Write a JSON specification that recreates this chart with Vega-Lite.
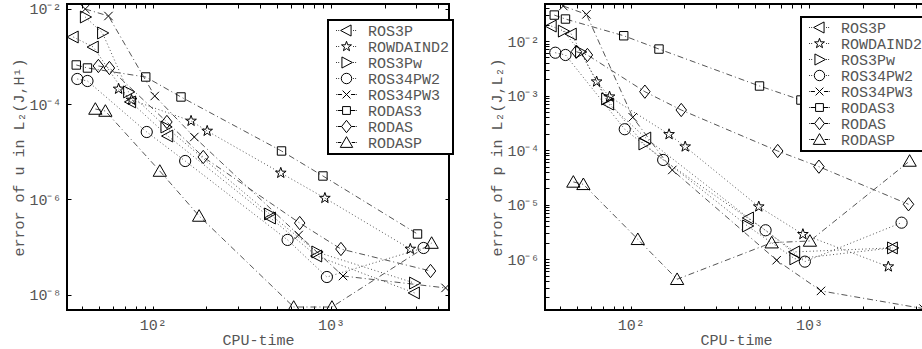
{
 "$schema": "https://vega.github.io/schema/vega-lite/v6.json",
 "background": "white",
 "padding": {"left": 10, "top": 0, "right": 0, "bottom": 0},
 "config": {
  "view": {"stroke": "black", "strokeWidth": 2},
  "axis": {"grid": false, "domain": false, "tickColor": "black", "tickSize": -4, "tickWidth": 1,
   "labelFont": "Liberation Mono", "labelFontSize": 15, "labelColor": "#555", "labelPadding": 10,
   "labelFlush": false, "labelOverlap": false, "labelBound": false,
   "titleFont": "Liberation Mono", "titleFontSize": 15, "titleColor": "#555", "titleFontWeight": "normal"}
 },
 "datasets": {
  "runs": [
   {"method":"ROS3P","cpu":35.8,"err_u":2.55e-3,"err_p":1.88e-2},
   {"method":"ROS3P","cpu":46.4,"err_u":1.57e-3,"err_p":1.34e-2},
   {"method":"ROS3P","cpu":75.2,"err_u":1.11e-4,"err_p":7.0e-4},
   {"method":"ROS3P","cpu":121.5,"err_u":2.14e-5,"err_p":1.67e-4},
   {"method":"ROS3P","cpu":458,"err_u":4.09e-7,"err_p":5.73e-6},
   {"method":"ROS3P","cpu":833,"err_u":6.53e-8,"err_p":1.37e-6},
   {"method":"ROS3P","cpu":2944,"err_u":1.10e-8,"err_p":1.62e-6},
   {"method":"ROWDAIND2","cpu":64.3,"err_u":2.08e-4,"err_p":1.80e-3},
   {"method":"ROWDAIND2","cpu":76.0,"err_u":1.22e-4,"err_p":9.55e-4},
   {"method":"ROWDAIND2","cpu":164,"err_u":4.43e-5,"err_p":1.95e-4},
   {"method":"ROWDAIND2","cpu":202,"err_u":2.73e-5,"err_p":1.16e-4},
   {"method":"ROWDAIND2","cpu":523,"err_u":3.60e-6,"err_p":9.23e-6},
   {"method":"ROWDAIND2","cpu":925,"err_u":1.07e-6,"err_p":2.88e-6},
   {"method":"ROWDAIND2","cpu":2790,"err_u":9.16e-8,"err_p":7.35e-7},
   {"method":"ROS3Pw","cpu":41.8,"err_u":6.70e-3,"err_p":1.52e-2},
   {"method":"ROS3Pw","cpu":52.2,"err_u":3.10e-3,"err_p":6.3e-3},
   {"method":"ROS3Pw","cpu":73.1,"err_u":1.80e-4,"err_p":8.67e-4},
   {"method":"ROS3Pw","cpu":118.4,"err_u":3.31e-5,"err_p":1.30e-4},
   {"method":"ROS3Pw","cpu":452,"err_u":4.97e-7,"err_p":4.09e-6},
   {"method":"ROS3Pw","cpu":833,"err_u":7.93e-8,"err_p":1.02e-6},
   {"method":"ROS3Pw","cpu":2944,"err_u":1.77e-8,"err_p":1.62e-6},
   {"method":"ROS34PW2","cpu":37.7,"err_u":3.36e-4,"err_p":6.11e-3},
   {"method":"ROS34PW2","cpu":43.0,"err_u":3.05e-4,"err_p":5.55e-3},
   {"method":"ROS34PW2","cpu":92.5,"err_u":2.60e-5,"err_p":2.42e-4},
   {"method":"ROS34PW2","cpu":152,"err_u":6.41e-6,"err_p":6.62e-5},
   {"method":"ROS34PW2","cpu":571,"err_u":1.42e-7,"err_p":3.41e-6},
   {"method":"ROS34PW2","cpu":949,"err_u":2.37e-8,"err_p":9.08e-7},
   {"method":"ROS34PW2","cpu":3311,"err_u":9.62e-8,"err_p":4.70e-6},
   {"method":"ROS34PW3","cpu":41.8,"err_u":9.86e-3,"err_p":4.38e-2},
   {"method":"ROS34PW3","cpu":56.4,"err_u":7.03e-3,"err_p":3.08e-2},
   {"method":"ROS34PW3","cpu":102.6,"err_u":1.48e-4,"err_p":4.01e-4},
   {"method":"ROS34PW3","cpu":171,"err_u":2.04e-5,"err_p":4.34e-5},
   {"method":"ROS34PW3","cpu":659,"err_u":1.80e-7,"err_p":9.64e-7},
   {"method":"ROS34PW3","cpu":1169,"err_u":2.49e-8,"err_p":2.64e-7},
   {"method":"ROS34PW3","cpu":4400,"err_u":1.40e-8,"err_p":1.25e-7},
   {"method":"RODAS3","cpu":37.2,"err_u":6.61e-4,"err_p":2.99e-2},
   {"method":"RODAS3","cpu":43.0,"err_u":5.71e-4,"err_p":2.53e-2},
   {"method":"RODAS3","cpu":91.3,"err_u":3.70e-4,"err_p":1.25e-2},
   {"method":"RODAS3","cpu":144,"err_u":1.41e-4,"err_p":7.13e-3},
   {"method":"RODAS3","cpu":528,"err_u":1.04e-5,"err_p":1.50e-3},
   {"method":"RODAS3","cpu":902,"err_u":3.11e-6,"err_p":8.30e-4},
   {"method":"RODAS3","cpu":3062,"err_u":1.89e-7,"err_p":1.60e-4},
   {"method":"RODAS","cpu":49.5,"err_u":6.30e-4,"err_p":6.37e-3},
   {"method":"RODAS","cpu":57.1,"err_u":5.71e-4,"err_p":5.55e-3},
   {"method":"RODAS","cpu":120,"err_u":4.22e-5,"err_p":1.18e-3},
   {"method":"RODAS","cpu":192,"err_u":7.78e-6,"err_p":5.45e-4},
   {"method":"RODAS","cpu":668,"err_u":3.21e-7,"err_p":9.66e-5},
   {"method":"RODAS","cpu":1138,"err_u":9.16e-8,"err_p":4.99e-5},
   {"method":"RODAS","cpu":3622,"err_u":3.17e-8,"err_p":1.02e-5},
   {"method":"RODASP","cpu":47.6,"err_u":7.89e-5,"err_p":2.62e-5},
   {"method":"RODASP","cpu":54.2,"err_u":7.16e-5,"err_p":2.37e-5},
   {"method":"RODASP","cpu":109.5,"err_u":3.95e-6,"err_p":2.33e-6},
   {"method":"RODASP","cpu":182,"err_u":4.51e-7,"err_p":4.32e-7},
   {"method":"RODASP","cpu":618,"err_u":5.57e-9,"err_p":2.02e-6},
   {"method":"RODASP","cpu":1013,"err_u":5.57e-9,"err_p":2.17e-6},
   {"method":"RODASP","cpu":3675,"err_u":1.22e-7,"err_p":6.34e-5}
  ]
 },
 "data": {"name": "runs"},
 "spacing": 33,
 "resolve": {
  "scale": {"x": "independent", "y": "independent", "shape": "independent", "strokeDash": "independent", "opacity": "independent"},
  "legend": {"opacity": "independent", "shape": "independent", "strokeDash": "independent"}
 },
 "hconcat": [
  {
   "width": 382, "height": 306,
   "resolve": {"axis": {"x": "independent", "y": "independent"}},
   "layer": [
    {
     "mark": {"type": "line", "stroke": "#555", "strokeWidth": 1, "clip": true},
     "encoding": {
      "x": {"field": "cpu", "type": "quantitative", "scale": {"type": "log", "domain": [33, 4600], "nice": false},
            "axis": {"orient": "top", "values": [40,50,60,70,80,90,100,200,300,400,500,600,700,800,900,1000,2000,3000,4000], "labels": false, "title": null}},
      "y": {"field": "err_u", "type": "quantitative", "scale": {"type": "log", "domain": [4.82e-9, 1.255e-2], "nice": false},
            "axis": {"orient": "right", "values": [1e-8, 1e-6, 1e-4, 1e-2], "labels": false, "title": null}},
      "strokeDash": {"field": "method", "type": "nominal",
        "scale": {"domain": ["RODAS","RODAS3","RODASP","ROS34PW2","ROS34PW3","ROS3P","ROS3Pw","ROWDAIND2"],
                  "range": [[6,3,1,3],[6,3,1,3],[6,3,1,3],[1,2.5],[6,3,1,3],[1,2.5],[1,2.5],[1,2.5]]},
        "legend": null}
     }
    },
    {
     "mark": {"type": "point", "filled": false, "stroke": "black", "strokeWidth": 1, "size": 196, "clip": true},
     "encoding": {
      "x": {"field": "cpu", "type": "quantitative", "scale": {"type": "log", "domain": [33, 4600], "nice": false},
            "axis": {"orient": "bottom", "values": [40,50,60,70,80,90,100,200,300,400,500,600,700,800,900,1000,2000,3000,4000],
                     "labelExpr": "datum.value == 100 ? '10²' : datum.value == 1000 ? '10³' : ''", "labelPadding": 11, "titlePadding": 0, "title": "CPU-time"}},
      "y": {"field": "err_u", "type": "quantitative", "scale": {"type": "log", "domain": [4.82e-9, 1.255e-2], "nice": false},
            "axis": {"orient": "left", "values": [1e-8, 1e-6, 1e-4, 1e-2],
                     "labelExpr": "datum.value < 1e-7 ? '10⁻⁸' : datum.value < 1e-5 ? '10⁻⁶' : datum.value < 1e-3 ? '10⁻⁴' : '10⁻²'",
                     "titlePadding": 2, "title": "error of u in L₂(J,H¹)"}},
      "shape": {"field": "method", "type": "nominal",
        "scale": {"domain": ["RODASP","RODAS","RODAS3","ROS34PW3","ROS34PW2","ROS3Pw","ROWDAIND2","ROS3P"],
                  "range": ["M0,-0.9L0.95,0.75L-0.95,0.75Z",
                            "M0,-0.95L0.75,0L0,0.95L-0.75,0Z",
                            "M-0.6,-0.6H0.6V0.6H-0.6Z",
                            "M-0.6,-0.6L0.6,0.6M-0.6,0.6L0.6,-0.6",
                            "M-0.8,0A0.8,0.8,0,1,0,0.8,0A0.8,0.8,0,1,0,-0.8,0Z",
                            "M0.9,0L-0.7,-0.85L-0.7,0.85Z",
                            "M0,-0.8L0.188,-0.259L0.761,-0.247L0.304,0.099L0.47,0.647L0,0.32L-0.47,0.647L-0.304,0.099L-0.761,-0.247L-0.188,-0.259Z",
                            "M-0.9,0L0.7,-0.85L0.7,0.85Z"]},
        "legend": null},
      "opacity": {"field": "method", "type": "nominal",
        "scale": {"domain": ["ROS3P","ROWDAIND2","ROS3Pw","ROS34PW2","ROS34PW3","RODAS3","RODAS","RODASP"], "range": [1,1,1,1,1,1,1,1]},
        "legend": {"title": null, "orient": "none", "legendX": 261, "legendY": 16, "direction": "vertical",
                   "fillColor": "white", "strokeColor": "black", "padding": 3,
                   "labelFont": "Liberation Mono", "labelFontSize": 15, "labelColor": "#555",
                   "symbolSize": 170, "symbolStrokeColor": "black", "symbolFillColor": "transparent", "symbolStrokeWidth": 1,
                   "symbolOffset": 8, "labelOffset": 14, "rowPadding": -6,
                   "encoding": {
                    "legend": {"strokeWidth": {"value": 2}},
                    "symbols": {"shape": {"value": {"expr": "datum.value==='ROS3P' ? 'M-1.6,0h0.12M-1.25,0h0.12M-0.9,0L0.7,-0.85L0.7,0.85ZM1.0,0h0.12M1.35,0h0.12' : datum.value==='ROWDAIND2' ? 'M-1.6,0h0.12M-1.25,0h0.12M0,-0.8L0.188,-0.259L0.761,-0.247L0.304,0.099L0.47,0.647L0,0.32L-0.47,0.647L-0.304,0.099L-0.761,-0.247L-0.188,-0.259ZM1.0,0h0.12M1.35,0h0.12' : datum.value==='ROS3Pw' ? 'M-1.6,0h0.12M-1.25,0h0.12M0.9,0L-0.7,-0.85L-0.7,0.85ZM1.0,0h0.12M1.35,0h0.12' : datum.value==='ROS34PW2' ? 'M-1.6,0h0.12M-1.25,0h0.12M-0.8,0A0.8,0.8,0,1,0,0.8,0A0.8,0.8,0,1,0,-0.8,0ZM1.0,0h0.12M1.35,0h0.12' : datum.value==='ROS34PW3' ? 'M-1.6,0h0.1M-1.35,0H-0.7M-0.6,-0.6L0.6,0.6M-0.6,0.6L0.6,-0.6M0.7,0H1.35M1.5,0h0.1' : datum.value==='RODAS3' ? 'M-1.6,0h0.1M-1.35,0H-0.6M-0.6,-0.6H0.6V0.6H-0.6ZM0.6,0H1.35M1.5,0h0.1' : datum.value==='RODAS' ? 'M-1.6,0h0.1M-1.35,0H-0.75M0,-0.95L0.75,0L0,0.95L-0.75,0ZM0.75,0H1.35M1.5,0h0.1' : 'M-1.6,0h0.1M-1.35,0H-0.8M0,-0.9L0.95,0.75L-0.95,0.75ZM0.8,0H1.35M1.5,0h0.1'"}}}
                   }}}
     }
    }
   ]
  },
  {
   "width": 382, "height": 306,
   "resolve": {"axis": {"x": "independent", "y": "independent"}},
   "layer": [
    {
     "mark": {"type": "line", "stroke": "#555", "strokeWidth": 1, "clip": true},
     "encoding": {
      "x": {"field": "cpu", "type": "quantitative", "scale": {"type": "log", "domain": [33, 4600], "nice": false},
            "axis": {"orient": "top", "values": [40,50,60,70,80,90,100,200,300,400,500,600,700,800,900,1000,2000,3000,4000], "labels": false, "title": null}},
      "y": {"field": "err_p", "type": "quantitative", "scale": {"type": "log", "domain": [1.18e-7, 4.77e-2], "nice": false},
            "axis": {"orient": "right", "values": [2e-7,3e-7,4e-7,5e-7,6e-7,7e-7,8e-7,9e-7,1e-6,2e-6,3e-6,4e-6,5e-6,6e-6,7e-6,8e-6,9e-6,1e-5,2e-5,3e-5,4e-5,5e-5,6e-5,7e-5,8e-5,9e-5,1e-4,2e-4,3e-4,4e-4,5e-4,6e-4,7e-4,8e-4,9e-4,1e-3,2e-3,3e-3,4e-3,5e-3,6e-3,7e-3,8e-3,9e-3,1e-2,2e-2,3e-2,4e-2], "labels": false, "title": null}},
      "strokeDash": {"field": "method", "type": "nominal",
        "scale": {"domain": ["RODAS","RODAS3","RODASP","ROS34PW2","ROS34PW3","ROS3P","ROS3Pw","ROWDAIND2"],
                  "range": [[6,3,1,3],[6,3,1,3],[6,3,1,3],[1,2.5],[6,3,1,3],[1,2.5],[1,2.5],[1,2.5]]},
        "legend": null}
     }
    },
    {
     "mark": {"type": "point", "filled": false, "stroke": "black", "strokeWidth": 1, "size": 196, "clip": true},
     "encoding": {
      "x": {"field": "cpu", "type": "quantitative", "scale": {"type": "log", "domain": [33, 4600], "nice": false},
            "axis": {"orient": "bottom", "values": [40,50,60,70,80,90,100,200,300,400,500,600,700,800,900,1000,2000,3000,4000],
                     "labelExpr": "datum.value == 100 ? '10²' : datum.value == 1000 ? '10³' : ''", "labelPadding": 11, "titlePadding": 0, "title": "CPU-time"}},
      "y": {"field": "err_p", "type": "quantitative", "scale": {"type": "log", "domain": [1.18e-7, 4.77e-2], "nice": false},
            "axis": {"orient": "left", "values": [2e-7,3e-7,4e-7,5e-7,6e-7,7e-7,8e-7,9e-7,1e-6,2e-6,3e-6,4e-6,5e-6,6e-6,7e-6,8e-6,9e-6,1e-5,2e-5,3e-5,4e-5,5e-5,6e-5,7e-5,8e-5,9e-5,1e-4,2e-4,3e-4,4e-4,5e-4,6e-4,7e-4,8e-4,9e-4,1e-3,2e-3,3e-3,4e-3,5e-3,6e-3,7e-3,8e-3,9e-3,1e-2,2e-2,3e-2,4e-2],
                     "labelExpr": "abs(log(datum.value)/LN10 - round(log(datum.value)/LN10)) > 0.01 ? '' : round(log(datum.value)/LN10) == -6 ? '10⁻⁶' : round(log(datum.value)/LN10) == -5 ? '10⁻⁵' : round(log(datum.value)/LN10) == -4 ? '10⁻⁴' : round(log(datum.value)/LN10) == -3 ? '10⁻³' : '10⁻²'",
                     "titlePadding": 2, "title": "error of p in L₂(J,L₂)"}},
      "shape": {"field": "method", "type": "nominal",
        "scale": {"domain": ["RODASP","RODAS","RODAS3","ROS34PW3","ROS34PW2","ROS3Pw","ROWDAIND2","ROS3P"],
                  "range": ["M0,-0.9L0.95,0.75L-0.95,0.75Z",
                            "M0,-0.95L0.75,0L0,0.95L-0.75,0Z",
                            "M-0.6,-0.6H0.6V0.6H-0.6Z",
                            "M-0.6,-0.6L0.6,0.6M-0.6,0.6L0.6,-0.6",
                            "M-0.8,0A0.8,0.8,0,1,0,0.8,0A0.8,0.8,0,1,0,-0.8,0Z",
                            "M0.9,0L-0.7,-0.85L-0.7,0.85Z",
                            "M0,-0.8L0.188,-0.259L0.761,-0.247L0.304,0.099L0.47,0.647L0,0.32L-0.47,0.647L-0.304,0.099L-0.761,-0.247L-0.188,-0.259Z",
                            "M-0.9,0L0.7,-0.85L0.7,0.85Z"]},
        "legend": null},
      "opacity": {"field": "method", "type": "nominal",
        "scale": {"domain": ["ROS3P","ROWDAIND2","ROS3Pw","ROS34PW2","ROS34PW3","RODAS3","RODAS","RODASP"], "range": [1,1,1,1,1,1,1,1]},
        "legend": {"title": null, "orient": "none", "legendX": 256, "legendY": 13, "direction": "vertical",
                   "fillColor": "white", "strokeColor": "black", "padding": 3,
                   "labelFont": "Liberation Mono", "labelFontSize": 15, "labelColor": "#555",
                   "symbolSize": 170, "symbolStrokeColor": "black", "symbolFillColor": "transparent", "symbolStrokeWidth": 1,
                   "symbolOffset": 8, "labelOffset": 14, "rowPadding": -6,
                   "encoding": {
                    "legend": {"strokeWidth": {"value": 2}},
                    "symbols": {"shape": {"value": {"expr": "datum.value==='ROS3P' ? 'M-1.6,0h0.12M-1.25,0h0.12M-0.9,0L0.7,-0.85L0.7,0.85ZM1.0,0h0.12M1.35,0h0.12' : datum.value==='ROWDAIND2' ? 'M-1.6,0h0.12M-1.25,0h0.12M0,-0.8L0.188,-0.259L0.761,-0.247L0.304,0.099L0.47,0.647L0,0.32L-0.47,0.647L-0.304,0.099L-0.761,-0.247L-0.188,-0.259ZM1.0,0h0.12M1.35,0h0.12' : datum.value==='ROS3Pw' ? 'M-1.6,0h0.12M-1.25,0h0.12M0.9,0L-0.7,-0.85L-0.7,0.85ZM1.0,0h0.12M1.35,0h0.12' : datum.value==='ROS34PW2' ? 'M-1.6,0h0.12M-1.25,0h0.12M-0.8,0A0.8,0.8,0,1,0,0.8,0A0.8,0.8,0,1,0,-0.8,0ZM1.0,0h0.12M1.35,0h0.12' : datum.value==='ROS34PW3' ? 'M-1.6,0h0.1M-1.35,0H-0.7M-0.6,-0.6L0.6,0.6M-0.6,0.6L0.6,-0.6M0.7,0H1.35M1.5,0h0.1' : datum.value==='RODAS3' ? 'M-1.6,0h0.1M-1.35,0H-0.6M-0.6,-0.6H0.6V0.6H-0.6ZM0.6,0H1.35M1.5,0h0.1' : datum.value==='RODAS' ? 'M-1.6,0h0.1M-1.35,0H-0.75M0,-0.95L0.75,0L0,0.95L-0.75,0ZM0.75,0H1.35M1.5,0h0.1' : 'M-1.6,0h0.1M-1.35,0H-0.8M0,-0.9L0.95,0.75L-0.95,0.75ZM0.8,0H1.35M1.5,0h0.1'"}}}
                   }}}
     }
    }
   ]
  }
 ]
}
